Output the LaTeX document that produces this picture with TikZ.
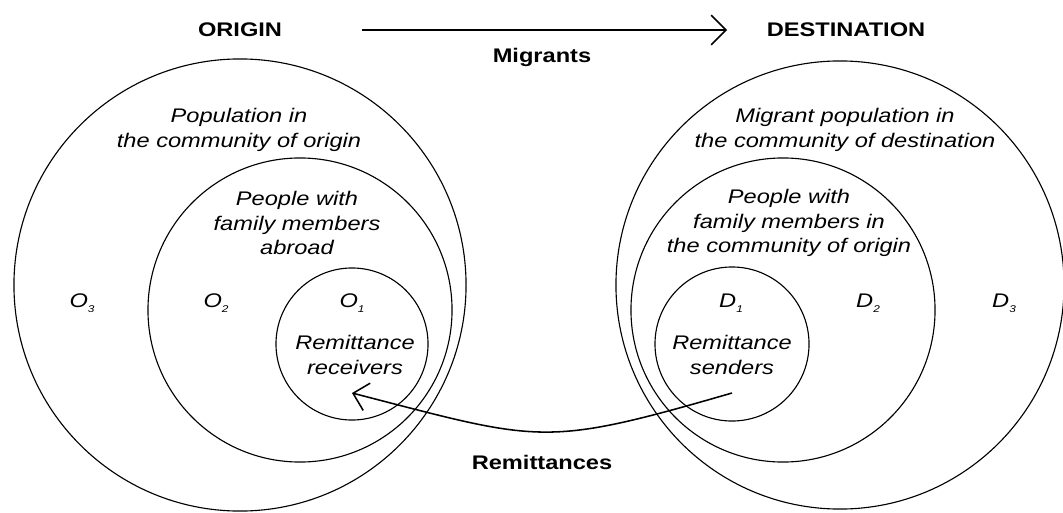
\documentclass[tikz,border=0pt]{standalone}
\usepackage{fontspec}
\setmainfont{Liberation Sans}[FakeStretch=1.2]
\usetikzlibrary{arrows.meta}

% small lowered index for the region names
\newcommand{\regidx}[1]{\raisebox{-0.45ex}{\fontsize{7}{7}\selectfont #1}}

\begin{document}
\begin{tikzpicture}[x=0.025cm,y=-0.025cm,
    ring/.style={draw, circle, inner sep=0pt, line width=0.8pt},
    txt/.style={font=\fontsize{14}{17.7}\selectfont\itshape, align=center, inner sep=1pt},
    head/.style={font=\fontsize{14}{17}\selectfont\bfseries, inner sep=1pt},
    flow/.style={line width=1.1pt, -{Straight Barb[length=10.5pt,width=21pt,line width=1.1pt]}}]
  \useasboundingbox (0,0) rectangle (1063,512);

  % origin side
  \node[ring, minimum size=11.3cm] (orgpop) at (240,285) {};
  \node[ring, minimum size=7.6cm]  (orgfam) at (300,310) {};
  \node[ring, minimum size=3.8cm]  (orgrec) at (352,344) {};
  \node[txt] (orgpoptxt) at (239,130) {Population in\\the community of origin};
  \node[txt] (orgfamtxt) at (297,223) {People with\\family members\\abroad};
  \node[txt] (orgrectxt) at (355,355) {Remittance\\receivers};
  \node[txt] (o3) at (82,303)  {O\regidx{3}};
  \node[txt] (o2) at (216,303) {O\regidx{2}};
  \node[txt] (o1) at (352,303) {O\regidx{1}};

  % destination side
  \node[ring, minimum size=11.2cm] (dstpop) at (840,285) {};
  \node[ring, minimum size=7.6cm]  (dstfam) at (783,310) {};
  \node[ring, minimum size=3.85cm] (dstsnd) at (732,344) {};
  \node[txt] (dstpoptxt) at (845,130) {Migrant population in\\the community of destination};
  \node[txt] (dstfamtxt) at (789,223) {People with\\family members in\\the community of origin};
  \node[txt] (dstsndtxt) at (732,355) {Remittance\\senders};
  \node[txt] (d1) at (731,303)  {D\regidx{1}};
  \node[txt] (d2) at (868,303)  {D\regidx{2}};
  \node[txt] (d3) at (1004,303) {D\regidx{3}};

  % headings and flows
  \node[head] (origin) at (240,30) {ORIGIN};
  \node[head] (destination) at (846,30) {DESTINATION};
  \node[head] (migrants) at (542,57) {Migrants};
  \node[head] (remittances) at (542,462) {Remittances};

  \coordinate (migfrom) at (362,30);
  \coordinate (migto) at (727,30);
  \draw[flow] (migfrom) -- (migto);

  \coordinate (remfrom) at (732,393);
  \coordinate (remto) at (352,393);
  \draw[flow, -{Straight Barb[length=10pt,width=20pt,line width=1.1pt]}]
    (remfrom) .. controls (542,448) and (542,442) .. (remto);
\end{tikzpicture}
\end{document}
